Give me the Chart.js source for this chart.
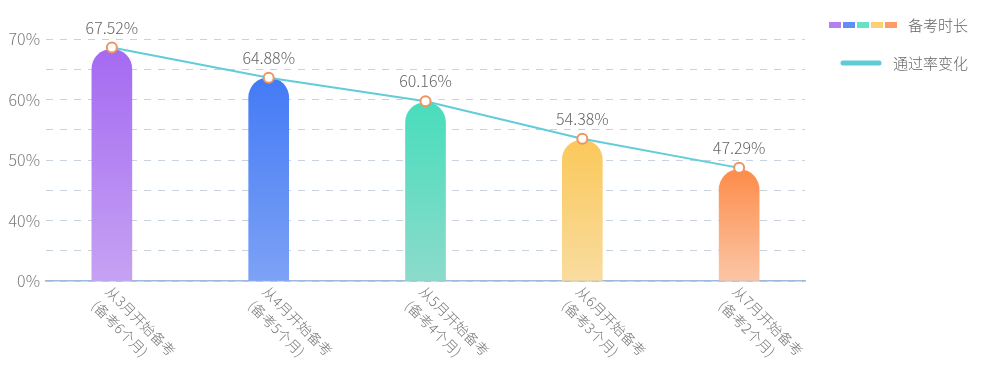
<!DOCTYPE html>
<html>
<head>
<meta charset="utf-8">
<script src="https://cdn.jsdelivr.net/npm/chart.js@4/dist/chart.umd.min.js"></script>
<style>
  html, body { margin: 0; padding: 0; background: #ffffff; }
  #wrap { width: 981px; height: 371px; position: relative; }
</style>
</head>
<body>
<div id="wrap"><canvas id="c" width="981" height="371"></canvas></div>
<script>
// ---- data ----
const categoryLines = [
  ["从3月开始备考", "(备考6个月)"],
  ["从4月开始备考", "(备考5个月)"],
  ["从5月开始备考", "(备考4个月)"],
  ["从6月开始备考", "(备考3个月)"],
  ["从7月开始备考", "(备考2个月)"]
];
const barValues = [68.3, 63.6, 59.5, 53.3, 48.4];
const lineValues = [68.6, 63.6, 59.7, 53.5, 48.7];
const rateLabels = ["67.52%", "64.88%", "60.16%", "54.38%", "47.29%"];
const yTickValues = [30, 40, 50, 60, 70];
const yTickTexts = ["0%", "40%", "50%", "60%", "70%"];
const legendBarName = "备考时长";
const legendLineName = "通过率变化";

// ---- styles ----
const barTop = ["#A46AF1", "#437AF5", "#48DDBC", "#FBC85A", "#FD8C4A"];
const barBottom = ["#C6A2F3", "#7DA2F6", "#8CDBCB", "#F9DC9F", "#FBC6A6"];
const FONT = '"Noto Sans CJK SC", "Noto Sans", sans-serif';

function barGradient(ctx) {
  const chart = ctx.chart;
  const area = chart.chartArea;
  const i = ctx.dataIndex;
  if (!area || i === undefined) return barTop[i || 0];
  const yTop = chart.scales.y.getPixelForValue(barValues[i]);
  const g = chart.ctx.createLinearGradient(0, yTop, 0, area.bottom);
  g.addColorStop(0, barTop[i]);
  g.addColorStop(1, barBottom[i]);
  return g;
}

const overlay = {
  id: 'overlay',
  afterDatasetsDraw(chart) {
    const c = chart.ctx;
    const xs = chart.scales.x;
    const area = chart.chartArea;
    // value labels above points
    const meta = chart.getDatasetMeta(0);
    c.save();
    c.font = '300 16px ' + FONT;
    c.fillStyle = '#666666';
    c.textAlign = 'center';
    c.textBaseline = 'middle';
    meta.data.forEach((pt, i) => {
      c.fillText(rateLabels[i], pt.x, pt.y - 20);
    });
    c.restore();
    // rotated category labels
    c.save();
    c.font = '300 14px ' + FONT;
    c.fillStyle = '#777777';
    c.textAlign = 'left';
    c.textBaseline = 'middle';
    categoryLines.forEach((lines, i) => {
      const x = xs.getPixelForValue(i);
      c.save();
      c.translate(x, area.bottom);
      c.rotate(Math.PI / 4);
      lines.forEach((t, k) => c.fillText(t, 3, 8 + k * 20));
      c.restore();
    });
    c.restore();
    // legend
    c.save();
    const sqW = 12, sqH = 6, gap = 2, sx = 829, sy = 22;
    barTop.forEach((col, i) => {
      c.fillStyle = col;
      c.globalAlpha = 0.85;
      c.fillRect(sx + i * (sqW + gap), sy, sqW, sqH);
    });
    c.globalAlpha = 1;
    c.font = '300 15px ' + FONT;
    c.fillStyle = '#666666';
    c.textAlign = 'right';
    c.textBaseline = 'middle';
    c.fillText(legendBarName, 968, 25);
    c.strokeStyle = '#5FCAD8';
    c.lineWidth = 5;
    c.lineCap = 'round';
    c.beginPath();
    c.moveTo(843, 63);
    c.lineTo(879, 63);
    c.stroke();
    c.fillText(legendLineName, 968, 63);
    c.restore();
  }
};

new Chart(document.getElementById('c'), {
  type: 'bar',
  data: {
    datasets: [
      {
        type: 'line',
        order: 0,
        data: lineValues.map((v, i) => ({ x: i, y: v })),
        borderColor: '#62CCD8',
        borderWidth: 2,
        pointRadius: 5,
        pointBackgroundColor: '#ffffff',
        pointBorderColor: '#F0935C',
        pointBorderWidth: 2,
        tension: 0,
        clip: false
      },
      {
        type: 'bar',
        order: 1,
        data: barValues.map((v, i) => ({ x: i, y: v })),
        base: 30,
        barThickness: 40,
        backgroundColor: barGradient,
        borderWidth: 0,
        borderSkipped: 'start',
        borderRadius: { topLeft: 20, topRight: 20, bottomLeft: 0, bottomRight: 0 }
      }
    ]
  },
  options: {
    responsive: false,
    animation: false,
    devicePixelRatio: 1,
    layout: { padding: { top: 39, right: 176, bottom: 89, left: 0 } },
    plugins: { legend: { display: false }, tooltip: { enabled: false } },
    scales: {
      x: {
        type: 'linear',
        offset: false,
        min: -0.42,
        max: 4.42,
        ticks: { display: false },
        grid: { display: false, drawTicks: false, offset: false },
        border: { display: true, color: '#9DB9DC', width: 1.5 },
        afterFit(s) { s.height = 1; }
      },
      y: {
        type: 'linear',
        min: 30,
        max: 70,
        afterBuildTicks(s) {
          s.ticks = [30, 35, 40, 45, 50, 55, 60, 65, 70].map(v => ({ value: v }));
        },
        ticks: {
          padding: 6,
          color: '#7a7a7a',
          font: { family: FONT, size: 16, weight: 300 },
          callback(v) {
            const k = yTickValues.indexOf(v);
            return k >= 0 ? yTickTexts[k] : '';
          }
        },
        grid: { color: '#C9D3E0', lineWidth: 1, drawTicks: false },
        border: { display: false, dash: [7, 7] },
        afterFit(s) { s.width = 46; }
      }
    }
  },
  plugins: [overlay]
});
</script>
</body>
</html>
